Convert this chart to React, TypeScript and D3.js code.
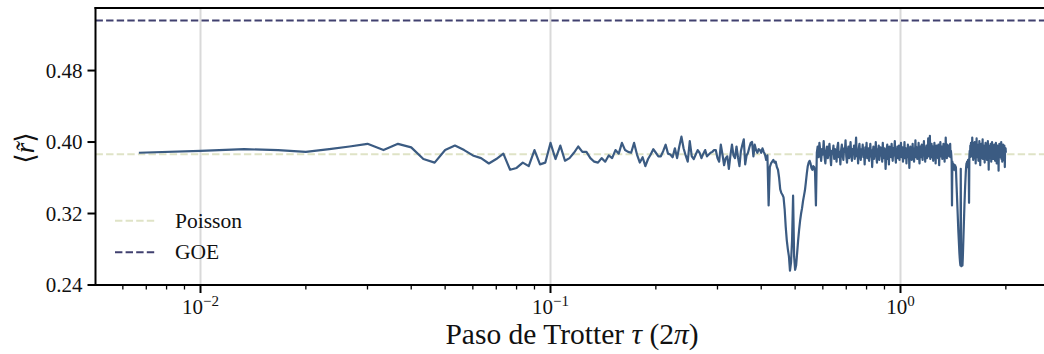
import React from 'react';
import * as d3 from 'd3';

// Trotter step grid: tau = k / 300 for k = 2 .. 600 (units of 2π)
const tauDenominator = 300;
const firstK = 2;

// <r~> values, k = 2..125
const rLow = [
  .388,.390,.392,.391,.389,.392,.395,.398,.391,.398,
  .394,.381,.377,.391,.396,.391,.385,.382,.376,.381,
  .387,.369,.371,.377,.373,.391,.375,.377,.399,.381,
  .396,.379,.382,.388,.395,.389,.389,.382,.378,.377,
  .382,.378,.385,
  .382,.391,.387,.399,.391,.389,.388,.399,.386,.377,
  .383,.373,.381,.386,.392,.388,.384,.384,.390,.397,
  .387,.386,.383,.393,.382,.395,.406,.393,.385,.378,
  .401,.384,.381,.386,.391,.388,.382,.387,.391,.384,
  .386,.388,.389,.391,.391,.382,.378,.397,.386,.374,
  .382,.384,.370,.385,.397,.385,.382,.395,.383,.373,
  .390,.397,.403,.375,.385,.388,.394,.399,.400,.384,
  .397,.391,.388,.392,.391,.388,.393,.389,.386,.380,.385,
];
// k = 126..172 (first resonance dip, tau ≈ 0.5)
const rDip1 = [
  .329,.372,.376,.378,.380,.377,.378,.372,.369,.360,
  .347,.343,.341,.338,.325,.305,.290,.280,.272,.256,
  .265,.290,.340,.272,.257,.262,.276,.290,.302,.312,
  .320,.326,.334,.340,.346,.355,.365,.373,.377,.379,
  .376,.371,.369,.373,.372,.366,.329,
];
// k = 173..418
const rMid = [
  .388,.395,.383,.399,.390,.379,.392,.386,.401,.384,
  .376,.389,.395,.382,.391,.398,.385,.374,.390,.387,
  .396,.381,.392,.388,.378,.394,.399,.383,.389,.375,
  .391,.397,.386,.380,.393,.389,.402,.384,.377,.390,
  .395,.382,.388,.400,.385,.379,.392,.387,.396,.381,
  .389,.405,.384,.391,.376,.393,.398,.386,.380,.392,
  .388,.397,.383,.390,.375,.394,.387,.399,.382,.389,
  .393,.379,.386,.398,.384,.391,.372,.388,.395,.381,
  .390,.386,.400,.383,.377,.392,.389,.396,.380,.387,
  .394,.385,.391,.378,.399,.386,.382,.393,.388,.370,
  .384,.392,.397,.381,.389,.375,.395,.386,.391,.383,
  .398,.388,.379,.393,.385,.390,.401,.384,.377,.392,
  .387,.395,.382,.389,.396,.380,.391,.386,.399,.383,
  .388,.394,.378,.392,.385,.400,.382,.389,.393,.376,
  .390,.386,.397,.383,.391,.371,.388,.395,.384,.392,
  .380,.389,.398,.385,.393,.378,.390,.386,.402,.383,
  .387,.394,.381,.392,.388,.399,.384,.376,.391,.395,
  .383,.389,.397,.386,.380,.393,.388,.401,.385,.390,
  .378,.394,.387,.396,.382,.391,.389,.404,.384,.392,
  .386,.407,.381,.393,.388,.398,.383,.390,.395,.379,
  .392,.387,.399,.384,.391,.376,.389,.396,.385,.393,
  .388,.382,.397,.390,.374,.392,.386,.400,.384,.391,
  .389,.395,.381,.393,.387,.398,.383,.390,.378,.394,
  .386,.405,.388,.392,.382,.397,.385,.391,.389,.396,
  .384,.393,.388,.398,.383,.390,
];
// k = 419..478 (second resonance dip, tau ≈ 1.5)
const rDip2 = [
  .386,.379,.329,.378,.372,.376,.371,.375,.369,.373,
  .370,.374,.368,.372,.360,.350,.340,.330,.320,.310,
  .300,.292,.284,.276,.270,.265,.262,.370,.262,.261,
  .263,.268,.262,.270,.282,.294,.306,.318,.330,.340,
  .350,.358,.366,.372,.376,.374,.378,.372,.376,.380,
  .374,.378,.332,.384,.390,.383,.396,.388,.399,.386,
];
// k = 479..600
const rHigh = [
  .392,.384,.405,.389,.395,.380,.398,.387,.393,.382,
  .400,.386,.391,.376,.395,.388,.404,.383,.390,.397,
  .385,.392,.379,.396,.388,.401,.384,.391,.374,.393,
  .387,.398,.382,.390,.395,.386,.403,.381,.392,.388,
  .396,.384,.389,.377,.394,.387,.399,.383,.391,.386,
  .397,.380,.392,.388,.401,.385,.390,.369,.394,.387,
  .382,.396,.389,.384,.398,.391,.378,.393,.386,.400,
  .384,.390,.395,.381,.388,.394,.383,.397,.386,.391,
  .379,.392,.388,.399,.385,.390,.376,.394,.387,.396,
  .382,.389,.393,.368,.391,.386,.398,.384,.390,.395,
  .383,.392,.387,.400,.381,.389,.394,.378,.391,.386,
  .397,.384,.390,.393,.380,.396,.387,.372,.391,.389,
  .393,.388,
];

const poissonR = 0.3863;
const goeR = 0.5359;
const yTicks = [0.24, 0.32, 0.40, 0.48];
const xMajorTicks = [0.01, 0.1, 1];
const xTickExponents = ['\u22122', '\u22121', '0'];
const legendLabels = ['Poisson', 'GOE'];

const FONT = "'Liberation Serif', 'DejaVu Serif', serif";
const LINE_COLOR = '#3b5b82';
const POISSON_COLOR = '#dfe3c6';
const GOE_COLOR = '#40406f';
const GRID_COLOR = '#d9d9d9';

export default function App() {
  const W = 1044, H = 354;
  const left = 95.5, right = 1049.2, top = 8, bottom = 285;
  const x = d3.scaleLog().domain([Math.pow(10, -2.3), Math.pow(10, 0.4249)]).range([left, right]);
  const y = d3.scaleLinear().domain([0.24, 0.55]).range([bottom, top]);

  const rValues = [...rLow, ...rDip1, ...rMid, ...rDip2, ...rHigh];
  const data = rValues.map((r, i) => ({ tau: (i + firstK) / tauDenominator, r }));
  const linePath = d3.line<{ tau: number; r: number }>()
    .x(d => x(d.tau))
    .y(d => y(d.r))(data) || '';

  const minorTicks = x.ticks().filter(t => !xMajorTicks.some(m => Math.abs(m - t) / m < 1e-9))
    .filter(t => x(t) > left + 1);

  const dash = '7.4 3.2';
  const legendItems = [
    { label: legendLabels[0], color: POISSON_COLOR, ly: 220.7 },
    { label: legendLabels[1], color: GOE_COLOR, ly: 252.3 },
  ];

  return (
    <svg width={W} height={H} style={{ position: 'absolute', left: 0, top: 0, background: '#fff' }}
      fontFamily={FONT}>
      <rect x={0} y={0} width={W} height={H} fill="#fff" />
      {/* grid */}
      {xMajorTicks.map((t, i) => (
        <line key={'g' + i} x1={x(t)} x2={x(t)} y1={top} y2={bottom} stroke={GRID_COLOR} strokeWidth={2} />
      ))}
      {/* reference lines */}
      <line x1={left} x2={right} y1={y(poissonR)} y2={y(poissonR)} stroke={POISSON_COLOR} strokeWidth={2} strokeDasharray={dash} />
      <line x1={left} x2={right} y1={y(goeR)} y2={y(goeR)} stroke={GOE_COLOR} strokeWidth={2} strokeDasharray={dash} />
      {/* data */}
      <path d={linePath} fill="none" stroke={LINE_COLOR} strokeWidth={2.2} strokeLinejoin="round" />
      {/* spines */}
      <line x1={left} x2={left} y1={top - 1} y2={bottom + 1} stroke="#000" strokeWidth={2} />
      <line x1={left - 1} x2={right} y1={bottom} y2={bottom} stroke="#000" strokeWidth={2} />
      <line x1={left - 1} x2={right} y1={top} y2={top} stroke="#000" strokeWidth={2} />
      <line x1={right} x2={right} y1={top} y2={bottom} stroke="#000" strokeWidth={2} />
      {/* y ticks */}
      {yTicks.map((t, i) => (
        <g key={'y' + i}>
          <line x1={left - 8} x2={left} y1={y(t)} y2={y(t)} stroke="#000" strokeWidth={2} />
          <text x={left - 13} y={y(t) + 7} textAnchor="end" fontSize={21} fill="#111">{t.toFixed(2)}</text>
        </g>
      ))}
      {/* x major ticks */}
      {xMajorTicks.map((t, i) => (
        <g key={'x' + i}>
          <line x1={x(t)} x2={x(t)} y1={bottom} y2={bottom + 8} stroke="#000" strokeWidth={2} />
          <text x={x(t)} y={314} textAnchor="middle" fontSize={21} fill="#111">
            10<tspan fontSize={15} dy={-8}>{xTickExponents[i]}</tspan>
          </text>
        </g>
      ))}
      {minorTicks.map((t, i) => (
        <line key={'m' + i} x1={x(t)} x2={x(t)} y1={bottom} y2={bottom + 4.5} stroke="#000" strokeWidth={1.3} />
      ))}
      {/* axis labels */}
      <text x={572} y={344} textAnchor="middle" fontSize={29.5} fill="#111">
        Paso de Trotter <tspan fontStyle="italic">τ</tspan> (2<tspan fontStyle="italic">π</tspan>)
      </text>
      <text transform="translate(34,148) rotate(-90)" textAnchor="middle" fontSize={27} fill="#111">
        ⟨<tspan fontStyle="italic">r̃</tspan>⟩
      </text>
      {/* legend */}
      {legendItems.map((it, i) => (
        <g key={'l' + i}>
          <line x1={115} x2={157} y1={it.ly} y2={it.ly} stroke={it.color} strokeWidth={2} strokeDasharray={dash} />
          <text x={175} y={it.ly + 7} fontSize={21.5} fill="#111">{it.label}</text>
        </g>
      ))}
    </svg>
  );
}
